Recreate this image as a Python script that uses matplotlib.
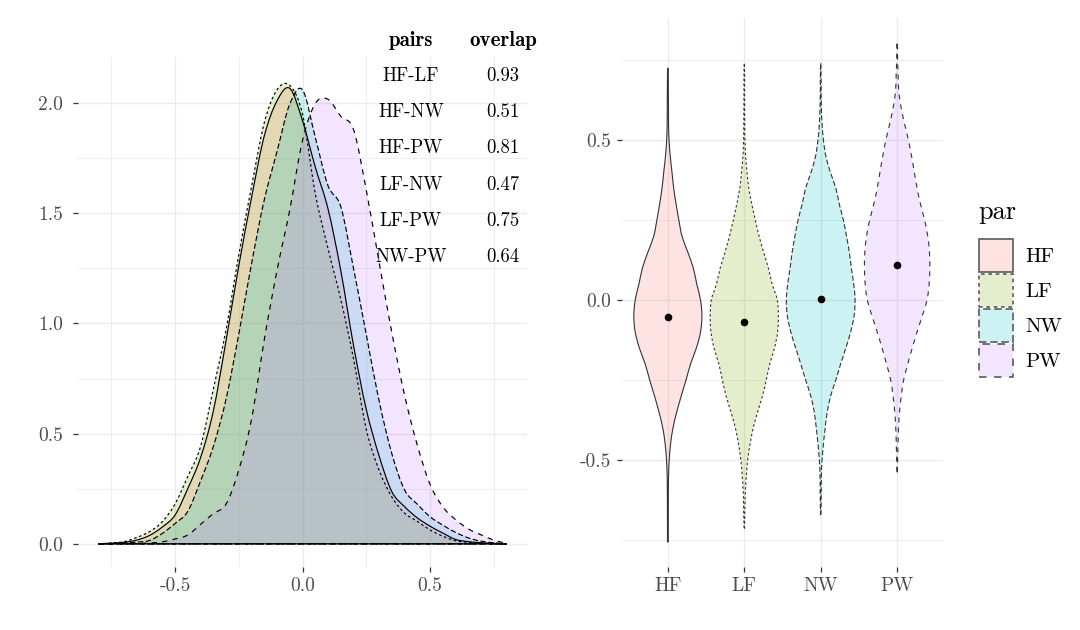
import numpy as np
import matplotlib
matplotlib.use("Agg")
import matplotlib.pyplot as plt
from matplotlib.path import Path
from matplotlib.patches import PathPatch, Patch

plt.rcParams["axes.unicode_minus"] = False
FONT = "cmr10"
BOLD = "cmb10"

# ---------------- data ----------------
groups = ["HF", "LF", "NW", "PW"]
fill_colors = ["#F8766D", "#7CAE00", "#00BFC4", "#C77CFF"]

# density curves (left panel)
density_x = [-0.80, -0.75, -0.70, -0.65, -0.60, -0.55, -0.50, -0.45, -0.40, -0.35, -0.30,
             -0.25, -0.20, -0.15, -0.10, -0.05, 0.00, 0.05, 0.10, 0.15, 0.20, 0.25,
             0.30, 0.35, 0.40, 0.45, 0.50, 0.55, 0.60, 0.65, 0.70, 0.75, 0.80]
dens_HF = [0.0, 0.003, 0.007, 0.017, 0.038, 0.076, 0.13, 0.25, 0.39, 0.60, 0.92, 1.26, 1.57,
           1.85, 2.01, 2.067, 1.92, 1.71, 1.52, 1.24, 0.90, 0.61, 0.40, 0.237, 0.169, 0.118,
           0.08, 0.049, 0.02, 0.01, 0.005, 0.002, 0.0]
dens_LF = [0.0, 0.004, 0.01, 0.029, 0.055, 0.10, 0.18, 0.305, 0.44, 0.70, 0.97, 1.31, 1.62,
           1.91, 2.06, 2.08, 1.95, 1.59, 1.34, 1.11, 0.84, 0.52, 0.335, 0.213, 0.14, 0.102,
           0.063, 0.035, 0.014, 0.007, 0.003, 0.001, 0.0]
dens_NW = [0.0, 0.002, 0.004, 0.008, 0.015, 0.047, 0.092, 0.147, 0.284, 0.44, 0.655, 0.95,
           1.27, 1.56, 1.78, 1.995, 2.06, 1.845, 1.625, 1.53, 1.25, 0.95, 0.65, 0.41, 0.245,
           0.18, 0.123, 0.085, 0.052, 0.027, 0.012, 0.005, 0.0]
dens_PW = [0.0, 0.0, 0.001, 0.002, 0.004, 0.009, 0.022, 0.04, 0.088, 0.137, 0.18, 0.334,
           0.564, 0.925, 1.24, 1.515, 1.83, 1.998, 2.017, 1.94, 1.88, 1.605, 1.28, 0.96,
           0.675, 0.448, 0.27, 0.168, 0.11, 0.068, 0.041, 0.017, 0.002]

# overlap table
pairs = ["HF-LF", "HF-NW", "HF-PW", "LF-NW", "LF-PW", "NW-PW"]
overlap = ["0.93", "0.51", "0.81", "0.47", "0.75", "0.64"]

# violins (right panel): relative half-width profile on a y grid, data range, means
violin_y = [-0.75, -0.70, -0.65, -0.60, -0.55, -0.50, -0.45, -0.40, -0.35, -0.30, -0.25,
            -0.20, -0.15, -0.10, -0.05, 0.00, 0.05, 0.10, 0.15, 0.20, 0.25, 0.30, 0.35,
            0.40, 0.45, 0.50, 0.55, 0.60, 0.65, 0.70, 0.75, 0.80]
vw_HF = [0.01, 0.012, 0.013, 0.015, 0.02, 0.04, 0.08, 0.15, 0.26, 0.39, 0.53, 0.66, 0.83,
         0.95, 0.99, 0.95, 0.84, 0.74, 0.58, 0.41, 0.32, 0.24, 0.17, 0.12, 0.07, 0.035,
         0.02, 0.018, 0.015, 0.012, 0.0, 0.0]
vw_LF = [0.0, 0.01, 0.02, 0.03, 0.06, 0.10, 0.17, 0.26, 0.39, 0.53, 0.64, 0.74, 0.88,
         0.97, 0.99, 0.96, 0.81, 0.70, 0.56, 0.43, 0.32, 0.22, 0.13, 0.08, 0.04, 0.02,
         0.015, 0.012, 0.01, 0.01, 0.0, 0.0]
vw_NW = [0.0, 0.0, 0.01, 0.015, 0.02, 0.04, 0.08, 0.13, 0.19, 0.29, 0.44, 0.58, 0.73,
         0.87, 0.97, 1.0, 0.96, 0.89, 0.83, 0.75, 0.66, 0.54, 0.44, 0.28, 0.15, 0.08,
         0.04, 0.02, 0.012, 0.01, 0.0, 0.0]
vw_PW = [0.0, 0.0, 0.0, 0.0, 0.0, 0.015, 0.025, 0.04, 0.07, 0.12, 0.19, 0.31, 0.44, 0.58,
         0.73, 0.87, 0.93, 0.95, 0.94, 0.89, 0.80, 0.68, 0.58, 0.50, 0.42, 0.33, 0.22,
         0.12, 0.05, 0.03, 0.015, 0.01]
v_min = [-0.758, -0.716, -0.672, -0.54]
v_max = [0.726, 0.742, 0.742, 0.805]
v_mean = [-0.052, -0.070, 0.002, 0.109]

densities = [dens_HF, dens_LF, dens_NW, dens_PW]
violins = [vw_HF, vw_LF, vw_NW, vw_PW]

# ---------------- style ----------------
linestyles = ["-", (0, (2.2, 2.2)), (0, (4.5, 2.2)), (0, (4.5, 4.5))]
ALPHA = 0.2
GRID = "#EBEBEB"
TXT = "#4D4D4D"


def smooth(pts):
    pts = np.asarray(pts, float)
    ext = np.vstack([pts[0], pts, pts[-1]])
    verts = [tuple(pts[0])]
    codes = [Path.MOVETO]
    for i in range(len(pts) - 1):
        p0, p1, p2, p3 = ext[i], ext[i + 1], ext[i + 2], ext[i + 3]
        c1 = p1 + (p2 - p0) / 6.0
        c2 = p2 - (p3 - p1) / 6.0
        verts += [tuple(c1), tuple(c2), tuple(p2)]
        codes += [Path.CURVE4] * 3
    return verts, codes


def style_axes(ax, ypad):
    for s in ax.spines.values():
        s.set_visible(False)
    ax.set_facecolor("white")
    ax.grid(True, which="major", color=GRID, lw=1.0)
    ax.grid(True, which="minor", color=GRID, lw=0.6)
    ax.set_axisbelow(True)
    ax.tick_params(which="major", length=3.5, width=0.9, color="#333333",
                   labelcolor=TXT, labelsize=14, pad=3.5)
    ax.tick_params(axis="y", which="major", pad=ypad)
    ax.tick_params(which="minor", length=0)
    for lab in ax.get_xticklabels() + ax.get_yticklabels():
        lab.set_fontfamily(FONT)


fig = plt.figure(figsize=(10.8, 6.3), dpi=100)
W, H = 1080, 630

# ---------------- left: densities ----------------
axL = fig.add_axes([78 / W, 1 - 567 / H, 449 / W, 510 / H])
for g, d, col, ls in zip(groups, densities, fill_colors, linestyles):
    verts, codes = smooth(list(zip(density_x, d)))
    verts += [(density_x[-1], 0.0), (density_x[0], 0.0), (density_x[0], 0.0)]
    codes += [Path.LINETO, Path.LINETO, Path.CLOSEPOLY]
    path = Path(verts, codes)
    axL.add_patch(PathPatch(path, facecolor=col, alpha=ALPHA, edgecolor="none", zorder=2))
    axL.add_patch(PathPatch(path, facecolor="none", edgecolor="black", lw=0.85,
                            linestyle=ls, zorder=3))
axL.set_xlim(-0.88, 0.88)
axL.set_ylim(-0.105, 2.209)
axL.set_xticks([-0.5, 0.0, 0.5])
axL.set_xticklabels(["-0.5", "0.0", "0.5"])
axL.set_xticks([-0.75, -0.25, 0.25, 0.75], minor=True)
axL.set_yticks([0.0, 0.5, 1.0, 1.5, 2.0])
axL.set_yticklabels(["0.0", "0.5", "1.0", "1.5", "2.0"])
axL.set_yticks([0.25, 0.75, 1.25, 1.75], minor=True)
style_axes(axL, ypad=7.5)

# overlap table
col_x = [411 / W, 503 / W]
fig.text(col_x[0], 1 - 41 / H, "pairs", ha="center", va="center",
         fontfamily=BOLD, fontsize=15, color="black")
fig.text(col_x[1], 1 - 41 / H, "overlap", ha="center", va="center",
         fontfamily=BOLD, fontsize=15, color="black")
for i, (p, o) in enumerate(zip(pairs, overlap)):
    yy = 1 - (76 + 36.2 * i) / H
    fig.text(col_x[0], yy, p, ha="center", va="center", fontfamily=FONT,
             fontsize=13.5, color="black")
    fig.text(col_x[1], yy, o, ha="center", va="center", fontfamily=FONT,
             fontsize=13.5, color="black")

# ---------------- right: violins ----------------
axR = fig.add_axes([622 / W, 1 - 567 / H, 321 / W, 549 / H])
yg = np.asarray(violin_y)
for k, (g, vw, col, ls) in enumerate(zip(groups, violins, fill_colors, linestyles)):
    pos = k + 1
    lo, hi = v_min[k], v_max[k]
    inner = [y for y in violin_y if lo < y < hi]
    ys = np.array([lo] + inner + [hi])
    rel = np.interp(ys, yg, vw)
    right = list(zip(pos + 0.45 * rel, ys))
    left = list(zip(pos - 0.45 * rel, ys))[::-1]
    v1, c1 = smooth(right)
    v2, c2 = smooth(left)
    verts = v1 + v2 + [v1[0]]
    codes = c1 + [Path.LINETO] + c2[1:] + [Path.CLOSEPOLY]
    path = Path(verts, codes)
    axR.add_patch(PathPatch(path, facecolor=col, alpha=ALPHA, edgecolor="none", zorder=2))
    axR.add_patch(PathPatch(path, facecolor="none", edgecolor="#333333", lw=0.8,
                            linestyle=ls, zorder=3))
axR.scatter(range(1, 5), v_mean, s=30, color="black", zorder=5, linewidths=0)
axR.set_xlim(0.4, 4.6)
axR.set_ylim(-0.836, 0.883)
axR.set_xticks([1, 2, 3, 4])
axR.set_xticklabels(groups)
axR.set_yticks([-0.5, 0.0, 0.5])
axR.set_yticklabels(["-0.5", "0.0", "0.5"])
axR.set_yticks([-0.75, -0.25, 0.25, 0.75], minor=True)
style_axes(axR, ypad=4)
axR.grid(False, axis="x", which="minor")

# legend (title placed separately for exact spacing)
fig.text(978 / W, 1 - 212 / H, "par", ha="left", va="center", fontfamily=FONT,
         fontsize=19, color="black")
handles = [Patch(facecolor=matplotlib.colors.to_rgba(c, ALPHA), edgecolor="#5A5A5A",
                 lw=1.2, linestyle=ls) for c, ls in zip(fill_colors, linestyles)]
leg = fig.legend(handles, groups, loc="upper left",
                 bbox_to_anchor=(979 / W, 1 - 239 / H), frameon=False,
                 prop={"family": FONT, "size": 15},
                 handlelength=1.63, handleheight=2.06, handletextpad=0.6,
                 labelspacing=0.1, borderpad=0, borderaxespad=0, alignment="left")

fig.savefig("out.png", dpi=100, facecolor="white")
